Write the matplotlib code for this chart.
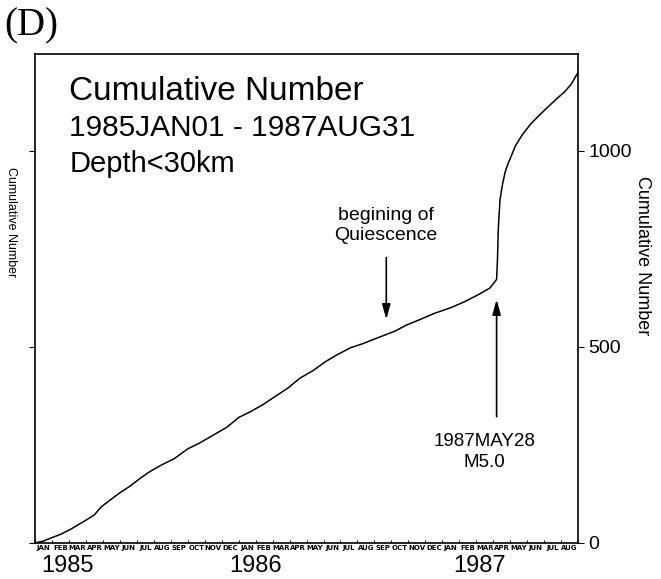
import matplotlib
matplotlib.use('Agg')
import matplotlib.pyplot as plt
import matplotlib.transforms as mtransforms
import numpy as np

plt.rcParams['font.family'] = ['Liberation Sans', 'DejaVu Sans']

# time in months since 1985 JAN01, cumulative number of events
months = [0.0, 0.5, 0.9, 1.5, 2.1, 2.6, 3.0, 3.5, 3.9, 4.5, 5.0, 5.6, 6.2, 6.8,
          7.5, 8.2, 9.0, 9.7, 10.5, 11.3, 12.0, 12.7, 13.4, 14.2, 14.9, 15.6,
          16.4, 17.1, 17.8, 18.6, 19.3, 20.0, 20.6, 21.2, 21.9, 22.7, 23.5,
          24.5, 25.3, 26.2, 26.8, 27.2, 27.25, 27.3, 27.4, 27.55, 27.7, 27.85,
          28.0, 28.3, 28.7, 29.2, 29.7, 30.3, 30.8, 31.2, 31.6, 32.0]
counts = [0, 5, 12, 22, 35, 48, 58, 72, 92, 112, 128, 145, 165, 183,
          200, 215, 240, 255, 275, 295, 320, 335, 352, 375, 395, 420,
          440, 462, 480, 498, 508, 520, 530, 540, 556, 570, 585,
          600, 615, 635, 650, 672, 720, 800, 875, 915, 945, 965,
          980, 1012, 1040, 1068, 1090, 1115, 1135, 1150, 1170, 1200]

month_names = ['JAN', 'FEB', 'MAR', 'APR', 'MAY', 'JUN', 'JUL', 'AUG',
               'SEP', 'OCT', 'NOV', 'DEC'] * 2 + \
              ['JAN', 'FEB', 'MAR', 'APR', 'MAY', 'JUN', 'JUL', 'AUG']
years = ['1985', '1986', '1987']

fig = plt.figure(figsize=(6.61, 5.79), dpi=100)
ax = fig.add_axes([0.053, 0.0622, 0.8215, 0.8446])
ax.plot(months, counts, c='k', lw=1.1)
ax.set_xlim(0, 32)
ax.set_ylim(0, 1247)

for s in ax.spines.values():
    s.set_linewidth(1.2)

ax.set_yticks([0, 500, 1000])
ax.tick_params(axis='y', left=True, right=True, labelleft=False,
               labelright=True, direction='out', length=4, labelsize=14)
ax.set_xticks(np.arange(0, 33))
ax.tick_params(axis='x', direction='in', length=2, labelbottom=False)

# month and year labels under the axis
trans = mtransforms.blended_transform_factory(ax.transData, ax.transAxes)
for i, m in enumerate(month_names):
    ax.text(i + 0.5, -0.005, m, transform=trans, ha='center', va='top',
            fontsize=5.0, fontweight='bold', family='DejaVu Sans')
for yr, xp in zip(years, [1.9, 13.0, 26.2]):
    ax.text(xp, -0.025, yr, transform=trans, ha='center', va='top', fontsize=17)

# axis labels
fig.text(0.972, 0.558, 'Cumulative Number', rotation=270, ha='center',
         va='center', fontsize=13)
fig.text(0.016, 0.617, 'Cumulative Number', rotation=270, ha='center',
         va='center', fontsize=9)

# header texts
fig.text(0.105, 1 - 92 / 579, 'Cumulative Number', fontsize=24, va='center')
fig.text(0.105, 1 - 128 / 579, '1985JAN01 - 1987AUG31', fontsize=21.5,
         va='center')
fig.text(0.105, 1 - 164 / 579, 'Depth<30km', fontsize=21, va='center')
fig.text(0.006, 0.988, '(D)', family='Liberation Serif', fontsize=28, va='top')

# annotations
head = '-|>,head_width=0.25,head_length=0.9'
ax.annotate('', xy=(20.7, 563), xytext=(20.7, 735),
            arrowprops=dict(arrowstyle=head, color='k', lw=1.2))
ax.text(20.65, 810, 'begining of\nQuiescence', ha='center', va='center',
        fontsize=14, linespacing=1.2)
ax.annotate('', xy=(27.2, 628), xytext=(27.2, 315),
            arrowprops=dict(arrowstyle=head, color='k', lw=1.2))
ax.text(26.5, 232, '1987MAY28\nM5.0', ha='center', va='center',
        fontsize=13.5, linespacing=1.25)

plt.savefig('out.png', dpi=100)
